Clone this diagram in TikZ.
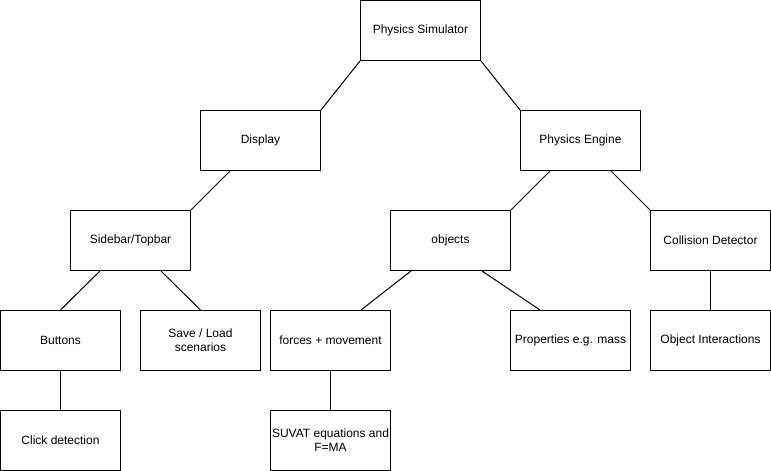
\documentclass[tikz,border=0pt]{standalone}
\usepackage{fontspec}
\setmainfont{Liberation Sans}
\begin{document}
\begin{tikzpicture}[x=0.75pt,y=-0.75pt,
  box/.style={draw,line width=0.75pt,minimum width=90pt,minimum height=45pt,inner sep=1pt,align=center,font=\fontsize{9}{10.5}\selectfont},
  every path/.style={line width=0.75pt}]
\useasboundingbox (0,0) rectangle (771,471);
% boxes
\node[box] (sim) at (420.5,30.5) {Physics Simulator};
\node[box] (display) at (260.5,140.5) {Display};
\node[box] (engine) at (580.5,140.5) {Physics Engine};
\node[box] (sidebar) at (130.5,240.5) {Sidebar/Topbar};
\node[box] (objects) at (450.5,240.5) {objects};
\node[box] (collision) at (710.5,240.5) {Collision Detector};
\node[box] (buttons) at (60.5,340.5) {Buttons};
\node[box] (save) at (200.5,340.5) {Save / Load\\scenarios};
\node[box] (forces) at (330.5,340.5) {forces + movement};
\node[box] (props) at (570.5,340.5) {Properties e.g. mass};
\node[box] (interact) at (710.5,340.5) {Object Interactions};
\node[box] (click) at (60.5,440.5) {Click detection};
\node[box] (suvat) at (330.5,440.5) {SUVAT equations and\\F=MA};
% links
\draw (sim.south west) -- (display.north east);
\draw (sim.south east) -- (engine.north west);
\draw ([xshift=22.5pt]display.south west) -- (sidebar.north east);
\draw ([xshift=22.5pt]engine.south west) -- (objects.north east);
\draw ([xshift=-22.5pt]engine.south east) -- (collision.north west);
\draw ([xshift=22.5pt]sidebar.south west) -- (buttons.north);
\draw ([xshift=-22.5pt]sidebar.south east) -- (save.north);
\draw ([xshift=15.75pt]objects.south west) -- ([xshift=-22.5pt]forces.north east);
\draw ([xshift=-21.75pt]objects.south east) -- ([xshift=22.5pt]props.north west);
\draw (collision) -- (interact);
\draw (buttons) -- (click);
\draw (forces) -- (suvat);
\end{tikzpicture}
\end{document}
